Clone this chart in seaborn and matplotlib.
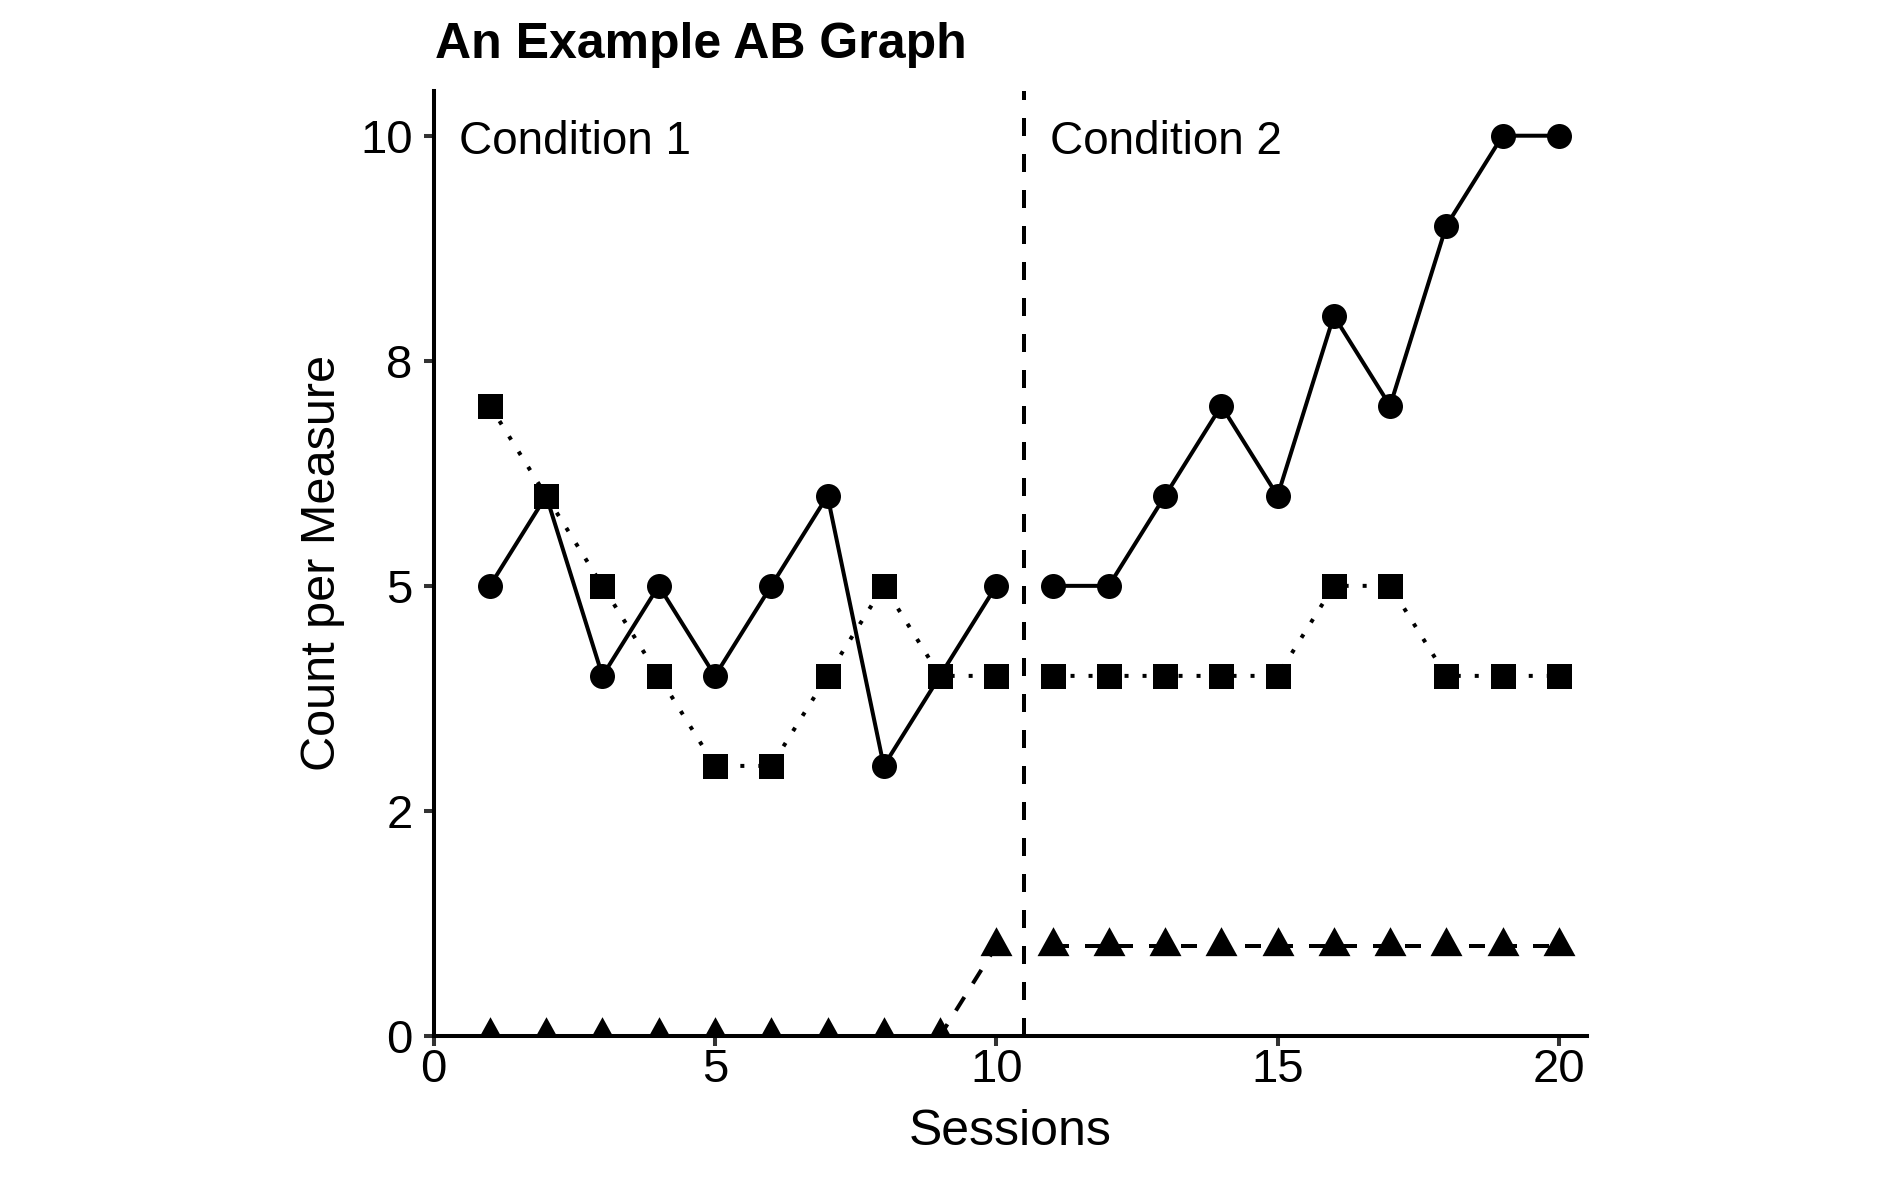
import matplotlib
matplotlib.use("Agg")
import matplotlib.pyplot as plt
import seaborn as sns
import pandas as pd

# data
sessions = list(range(1, 21))
measure_a = [5, 6, 4, 5, 4, 5, 6, 3, 4, 5, 5, 5, 6, 7, 6, 8, 7, 9, 10, 10]
measure_b = [7, 6, 5, 4, 3, 3, 4, 5, 4, 4, 4, 4, 4, 4, 4, 5, 5, 4, 4, 4]
measure_c = [0, 0, 0, 0, 0, 0, 0, 0, 0, 1, 1, 1, 1, 1, 1, 1, 1, 1, 1, 1]
phases = ["Condition 1"] * 10 + ["Condition 2"] * 10
phase_change = 10.5
y_ticks = [0, 2.5, 5, 7.5, 10]
y_tick_labels = ["0", "2", "5", "8", "10"]

df = pd.DataFrame({"session": sessions, "phase": phases,
                   "A": measure_a, "B": measure_b, "C": measure_c})
long_df = df.melt(id_vars=["session", "phase"], var_name="measure", value_name="count")

sns.set_style("ticks")
plt.rcParams["font.family"] = ["Liberation Sans", "DejaVu Sans"]
plt.rcParams["text.color"] = "black"
plt.rcParams["axes.labelcolor"] = "black"

W, H = 1889, 1181
fig = plt.figure(figsize=(W / 100, H / 100), dpi=100)
ax = fig.add_axes([433.7 / W, 1 - 1036 / H, (1587 - 433.7) / W, (1036 - 90.7) / H])

lw = 2.88
# triangle with centroid on the data point (like ggplot shape 17)
tri = [(0, 19.33), (-16, -9.67), (16, -9.67)]
styles = {
    "A": dict(marker="o", markersize=18, linestyle="-"),
    "B": dict(marker="s", markersize=18, linestyle=(0, (1, 3.5))),
    "C": dict(marker=tri, markersize=27.8, linestyle=(0, (4, 4))),
}

# one line per measure and phase, broken at the phase change
for (measure, phase), sub in long_df.groupby(["measure", "phase"]):
    sns.lineplot(data=sub, x="session", y="count", ax=ax, color="black",
                 linewidth=lw, markeredgewidth=0, sort=False, estimator=None,
                 dash_capstyle="butt", **styles[measure])

ax.axvline(phase_change, color="black", linewidth=lw, linestyle=(0, (4.5, 4.5)))

ax.text(0.45, 9.80, "Condition 1", fontsize=33, ha="left", va="baseline")
ax.text(10.95, 9.80, "Condition 2", fontsize=33, ha="left", va="baseline")

ax.set_xlim(0, 20.5)
ax.set_ylim(0, 10.5)
ax.set_xticks([0, 5, 10, 15, 20])
ax.set_yticks(y_ticks)
ax.set_yticklabels(y_tick_labels)
ax.tick_params(axis="both", labelsize=34, length=7.2, width=2.9, color="#333333",
               labelcolor="black")
ax.tick_params(axis="x", pad=1.5)
ax.tick_params(axis="y", pad=8)

for side in ["left", "bottom"]:
    ax.spines[side].set_linewidth(2.9)
    ax.spines[side].set_color("black")
sns.despine(ax=ax)

ax.set_xlabel("Sessions", fontsize=36, labelpad=12)
ax.set_ylabel("Count per Measure", fontsize=35, labelpad=11)

fig.text(435 / W, 1 - 58 / H, "An Example AB Graph", fontsize=36, fontweight="bold",
         ha="left", va="baseline")

fig.savefig("out.png", dpi=100)
